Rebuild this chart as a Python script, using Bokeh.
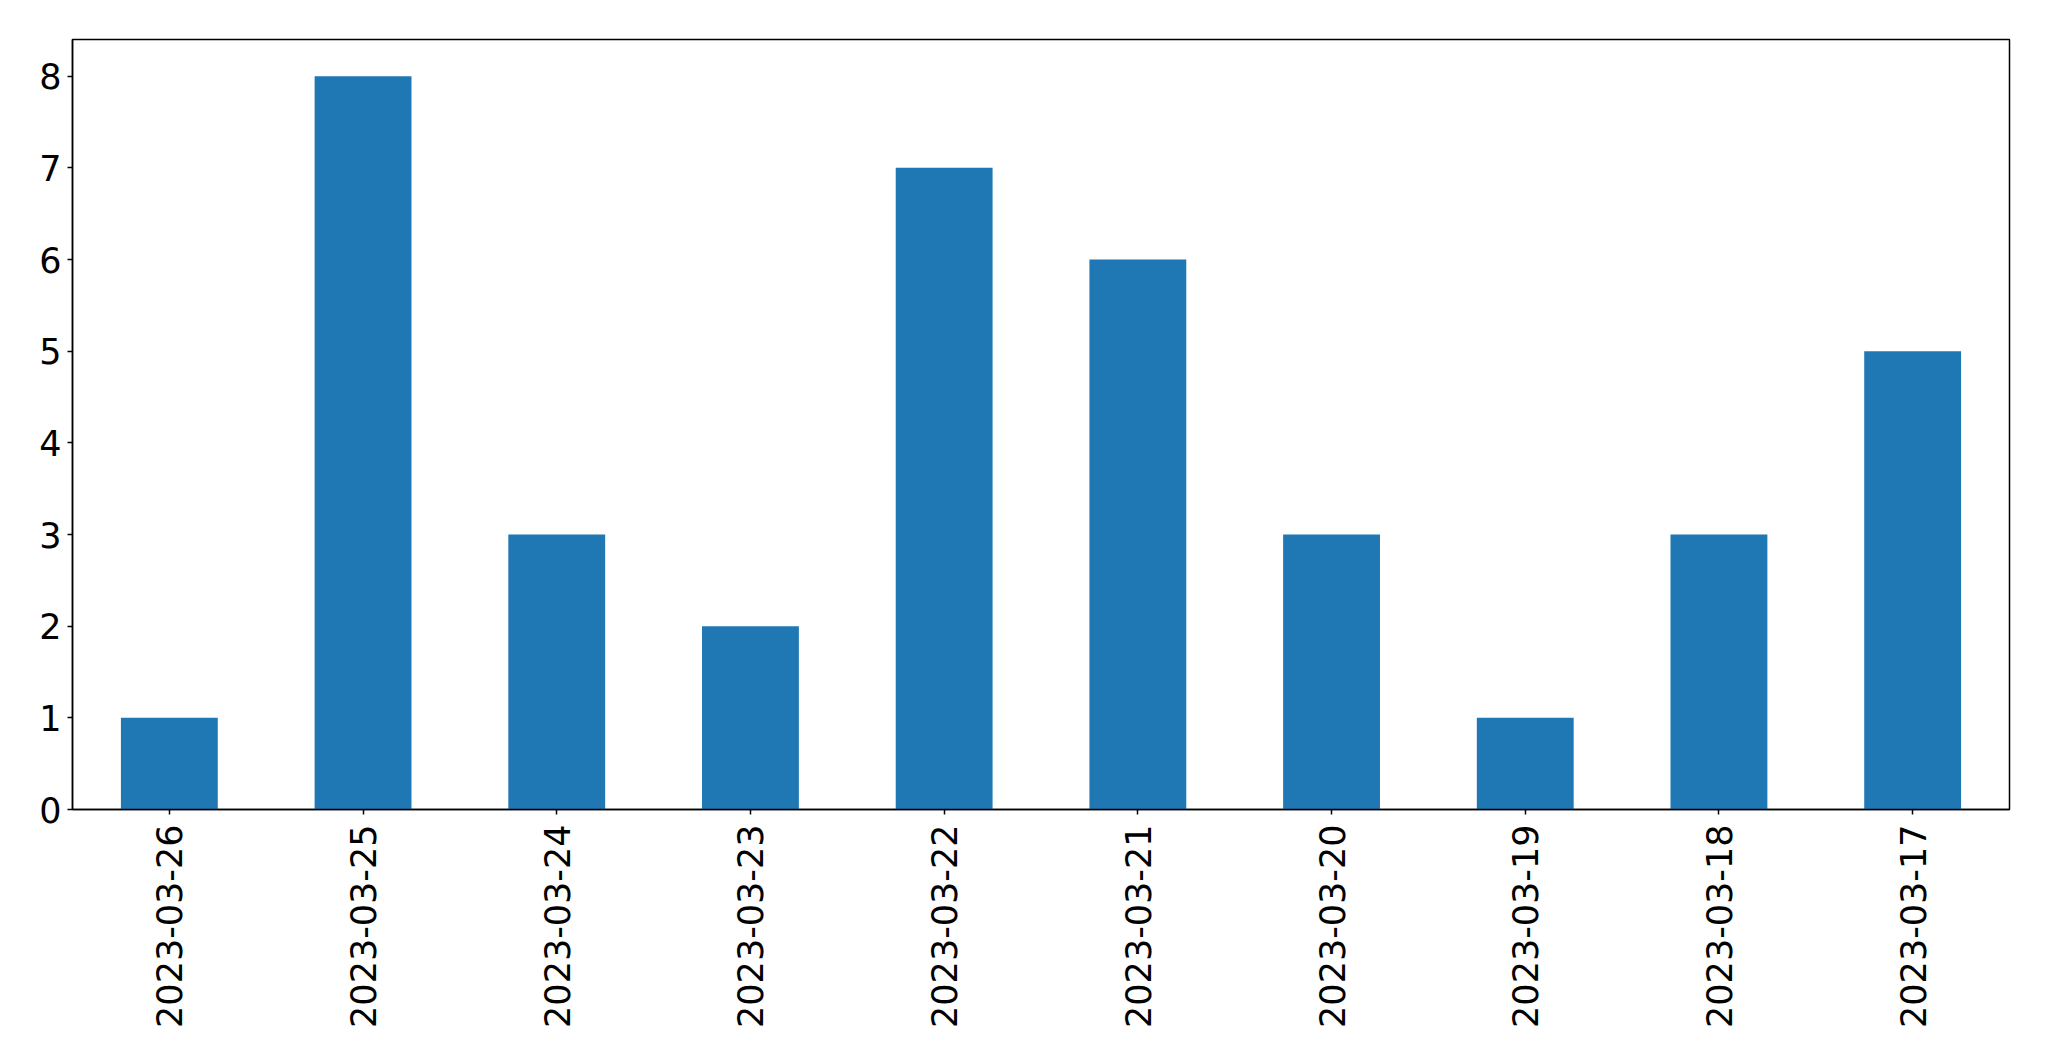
import math
from bokeh.plotting import figure
from bokeh.models import FactorRange, Range1d, ColumnDataSource, FixedTicker
from bokeh.embed import file_html
from bokeh.resources import INLINE

dates = ["2023-03-26", "2023-03-25", "2023-03-24", "2023-03-23", "2023-03-22",
         "2023-03-21", "2023-03-20", "2023-03-19", "2023-03-18", "2023-03-17"]
counts = [1, 8, 3, 2, 7, 6, 3, 1, 3, 5]
y_ticks = [0, 1, 2, 3, 4, 5, 6, 7, 8]

src = ColumnDataSource(dict(date=dates, count=counts))

W, H = 2045, 1057
p = figure(x_range=FactorRange(*dates, range_padding=0.0), y_range=Range1d(0, 8.4),
           width=W, height=H, output_backend="svg", toolbar_location=None,
           min_border_left=72, min_border_right=W - 2009, min_border_top=39,
           min_border_bottom=H - 809)

p.vbar(x="date", top="count", width=0.5, source=src, color="#1f77b4", line_color=None)

p.xgrid.visible = False
p.ygrid.visible = False
p.outline_line_color = "black"
p.outline_line_width = 1.5
p.outline_line_alpha = 1.0

for ax in (p.xaxis[0], p.yaxis[0]):
    ax.axis_line_color = "black"
    ax.axis_line_width = 1.5
    ax.major_tick_line_color = "black"
    ax.major_tick_line_width = 1.5
    ax.major_tick_out = 5
    ax.major_tick_in = 0
    ax.minor_tick_line_color = None
    ax.major_label_text_font = "DejaVu Sans"
    ax.major_label_text_font_size = "35px"
    ax.major_label_text_color = "black"

p.yaxis[0].ticker = FixedTicker(ticks=y_ticks)
p.yaxis[0].major_label_standoff = 6
p.xaxis[0].major_label_orientation = math.pi / 2
p.xaxis[0].major_label_standoff = 10
p.x_range.factor_padding = 0.0

open("out.html", "w").write(file_html(p, INLINE))
